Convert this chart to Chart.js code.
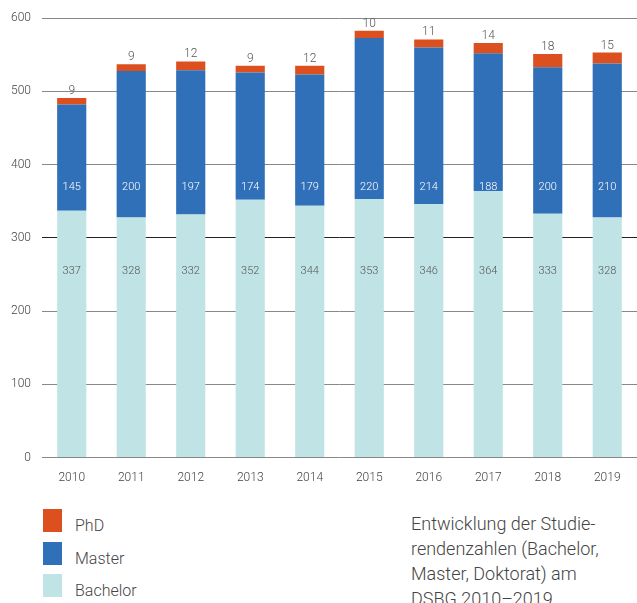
<!DOCTYPE html>
<html>
<head>
<meta charset="utf-8">
<script src="https://cdn.jsdelivr.net/npm/chart.js@4"></script>
<style>
    body { margin: 0; background: #fff; width: 637px; height: 603px; overflow: hidden; position: relative; font-family: Roboto, "Liberation Sans", sans-serif; }
    #wrap { position: absolute; left: 0; top: 0; width: 637px; height: 490px; }
    .legend { position: absolute; left: 43px; top: 509px; color: #444; font-size: 16px; font-weight: 300; }
    .legend div { height: 32.5px; position: relative; }
    .legend span.box { position: absolute; left: 0; top: 0; width: 19px; height: 23px; }
    .legend span.txt { position: absolute; left: 32px; top: 7px; }
    .caption { position: absolute; left: 411px; top: 511px; color: #444; font-size: 18px; line-height: 25px; width: 240px; font-weight: 300; }
</style>
</head>
<body>
<div id="wrap"><canvas id="chart"></canvas></div>
<div class="legend">
    <div><span class="box" style="background:#dc5020"></span><span class="txt">PhD</span></div>
    <div><span class="box" style="background:#3070b8"></span><span class="txt">Master</span></div>
    <div><span class="box" style="background:#c0e4e6"></span><span class="txt">Bachelor</span></div>
</div>
<div class="caption">Entwicklung der Studie-<br>rendenzahlen (Bachelor,<br>Master, Doktorat) am<br>DSBG 2010–2019.</div>
<script>
const years = ['2010', '2011', '2012', '2013', '2014', '2015', '2016', '2017', '2018', '2019'];
const bachelor = [337, 328, 332, 352, 344, 353, 346, 364, 333, 328];
const master = [145, 200, 197, 174, 179, 220, 214, 188, 200, 210];
const phd = [9, 9, 12, 9, 12, 10, 11, 14, 18, 15];

// labels inside bars sit at a fixed height, not at the segment centre
const bachelorLabelY = 254;
const masterLabelY = 369;

const valueLabels = {
    id: 'valueLabels',
    afterDatasetsDraw(chart) {
        const ctx = chart.ctx;
        const yScale = chart.scales.y;
        ctx.save();
        ctx.textAlign = 'center';
        ctx.textBaseline = 'middle';
        ctx.font = '300 11px Roboto, sans-serif';
        chart.getDatasetMeta(0).data.forEach(function(bar, i) {
            ctx.fillStyle = '#555';
            ctx.fillText(bachelor[i], bar.x, yScale.getPixelForValue(bachelorLabelY));
        });
        chart.getDatasetMeta(1).data.forEach(function(bar, i) {
            ctx.fillStyle = '#ffffff';
            ctx.fillText(master[i], bar.x, yScale.getPixelForValue(masterLabelY));
        });
        ctx.font = '300 12px Roboto, sans-serif';
        ctx.textBaseline = 'bottom';
        chart.getDatasetMeta(2).data.forEach(function(bar, i) {
            ctx.fillStyle = '#555';
            ctx.fillText(phd[i], bar.x, bar.y - 1);
        });
        ctx.restore();
    }
};

new Chart(document.getElementById('chart'), {
    type: 'bar',
    data: {
        labels: years,
        datasets: [
            { label: 'Bachelor', data: bachelor, backgroundColor: '#c0e4e6' },
            { label: 'Master', data: master, backgroundColor: '#3070b8' },
            { label: 'PhD', data: phd, backgroundColor: '#dc5020' }
        ].map(function(d) {
            return Object.assign(d, { barPercentage: 0.49, categoryPercentage: 1, borderWidth: 0 });
        })
    },
    options: {
        responsive: true,
        maintainAspectRatio: false,
        animation: false,
        layout: { padding: { top: 4, right: 0, left: 0, bottom: 0 } },
        scales: {
            x: {
                stacked: true,
                border: { display: false },
                grid: { display: false },
                ticks: { color: '#444', font: { size: 12, family: 'Roboto', weight: 300 }, padding: 5 }
            },
            y: {
                stacked: true,
                min: 0,
                max: 600,
                border: { display: false },
                grid: {
                    drawTicks: false,
                    color: function(c) { return (c.tick && (c.tick.value === 300)) ? '#222' : '#888'; },
                    lineWidth: 1
                },
                ticks: { stepSize: 100, color: '#444', font: { size: 12, family: 'Roboto', weight: 300 }, padding: 11 }
            }
        },
        plugins: {
            legend: { display: false },
            tooltip: { enabled: false }
        }
    },
    plugins: [valueLabels]
});
</script>
</body>
</html>
